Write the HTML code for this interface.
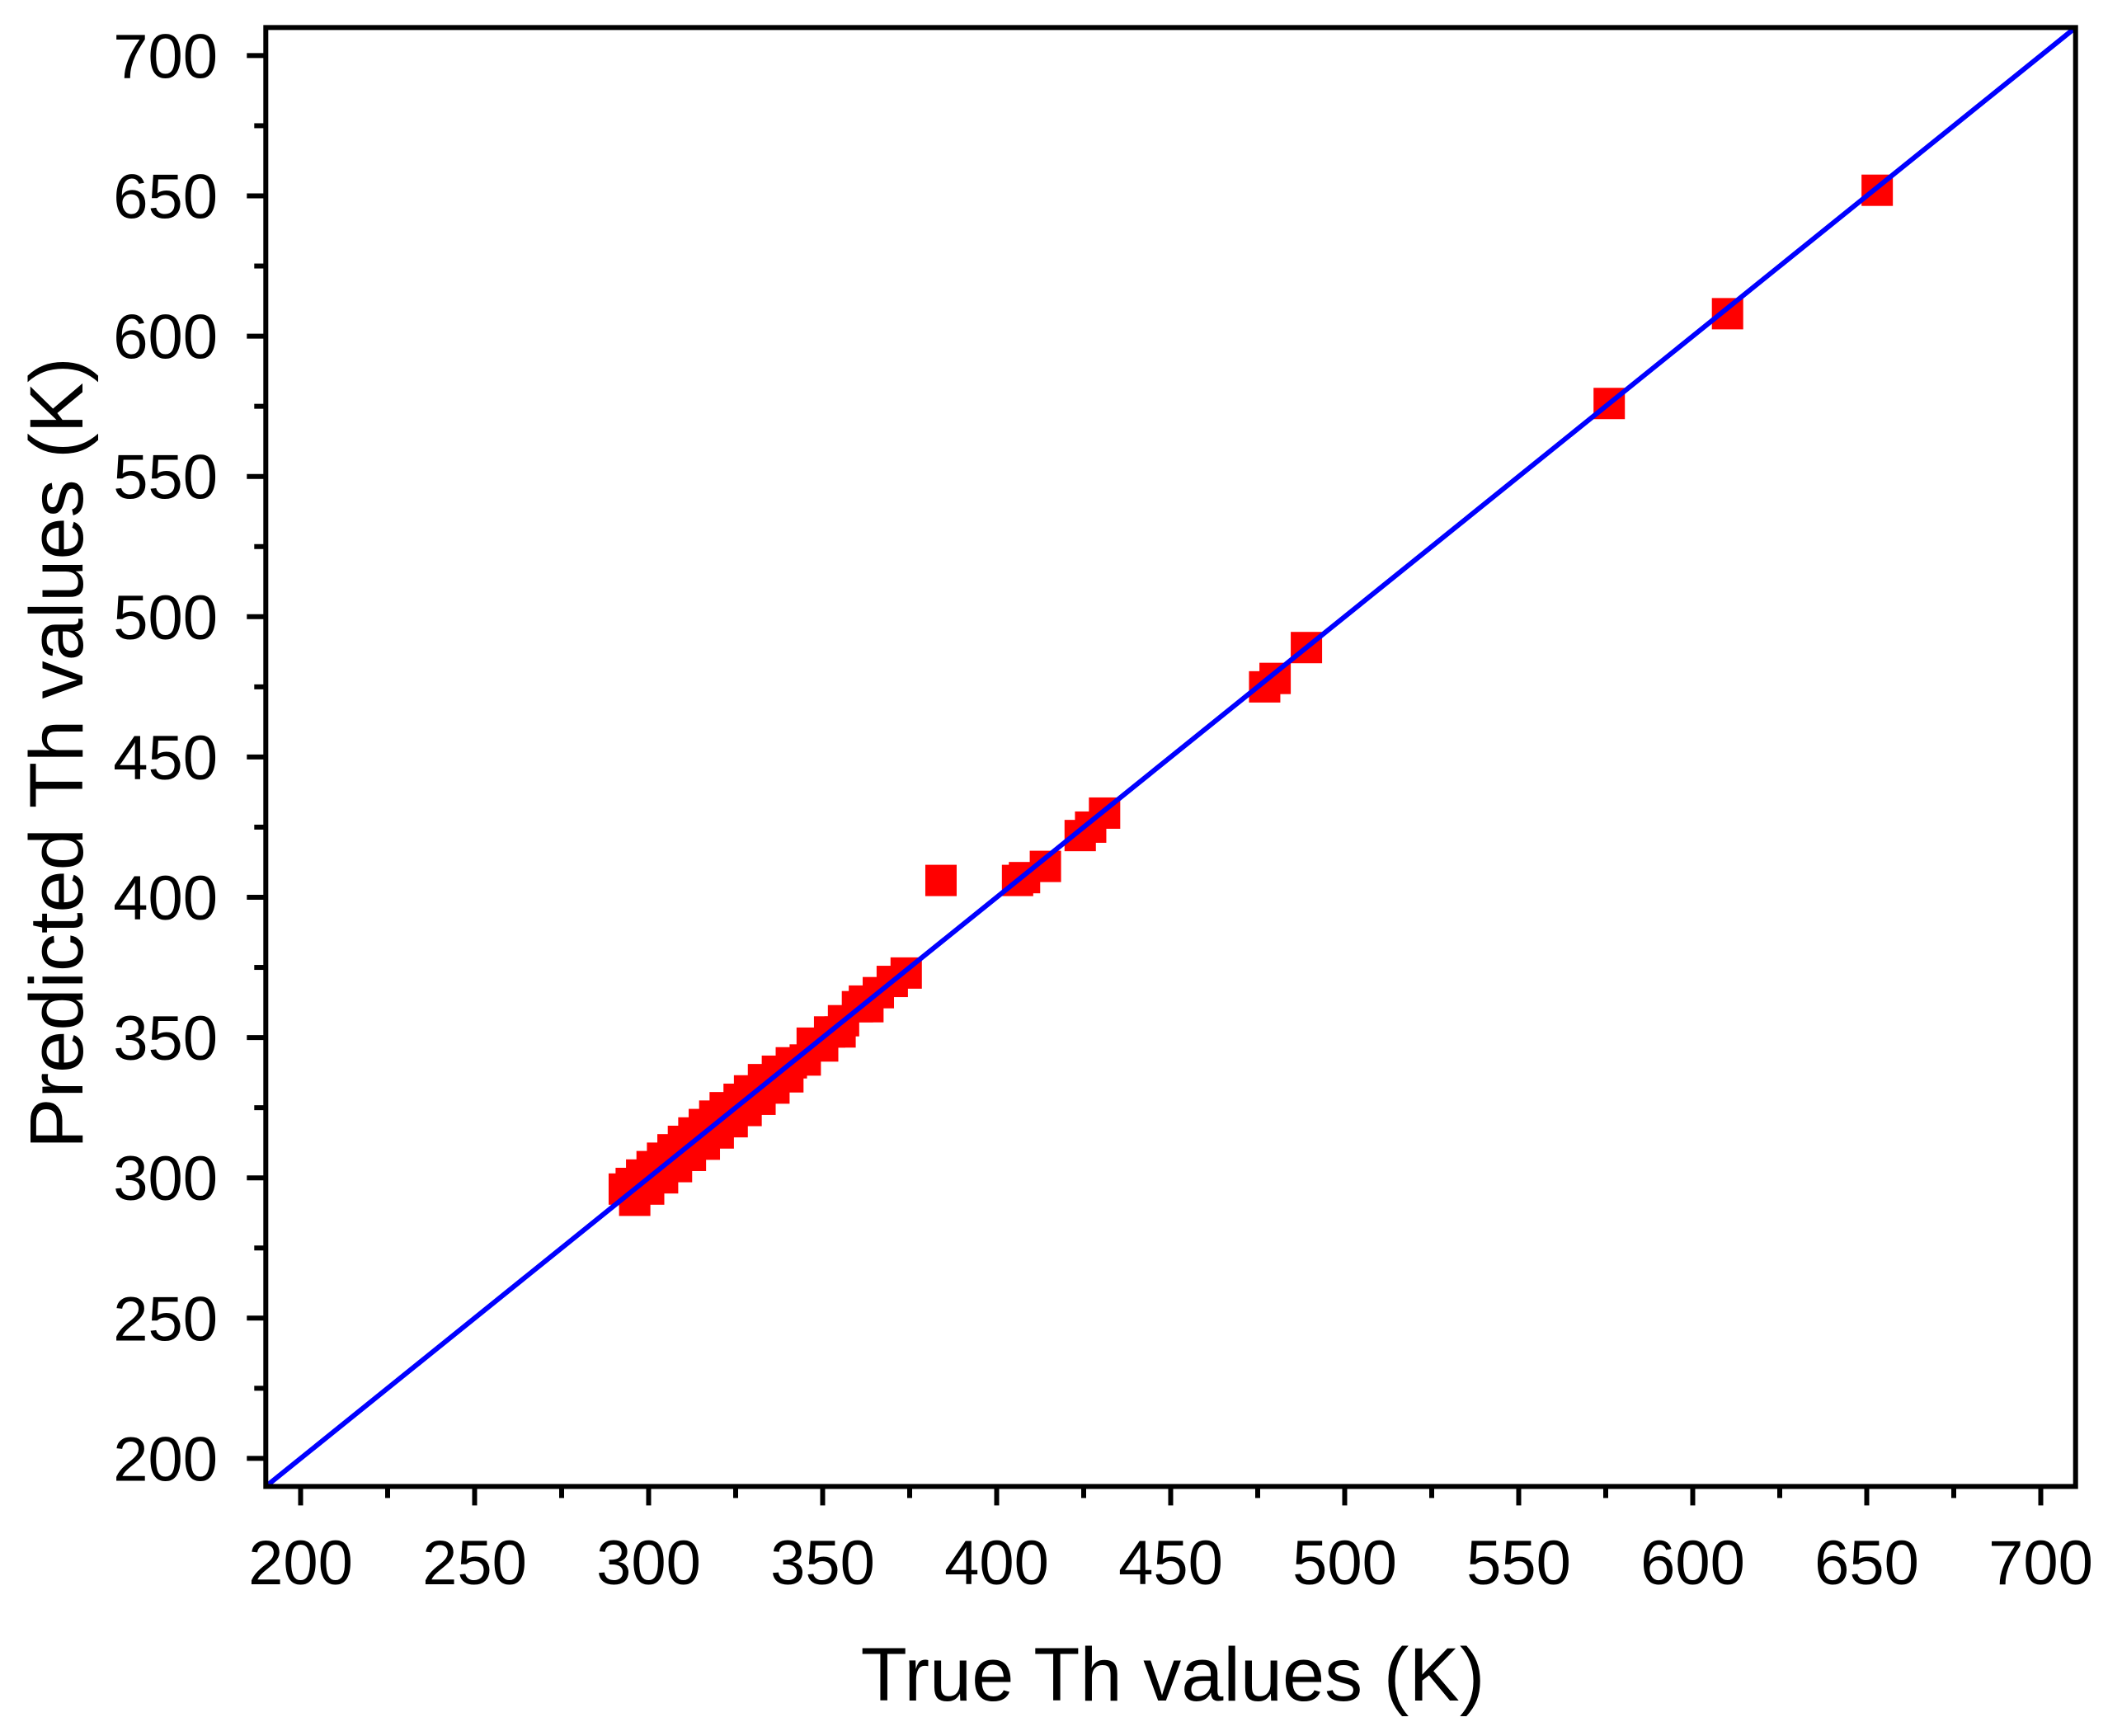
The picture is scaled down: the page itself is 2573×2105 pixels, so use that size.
<!DOCTYPE html>
<html><head><meta charset="utf-8"><style>
html,body{margin:0;padding:0;background:#fff;}
svg{display:block;}
text{font-family:"Liberation Sans",Arial,sans-serif;fill:#000;}
</style></head><body>
<svg id="chart" width="2573" height="2105" viewBox="0 0 2573 2105" xmlns="http://www.w3.org/2000/svg">
<g id="marks"></g>
<g id="axes"></g>
<text x="1422" y="2062" font-size="92" text-anchor="middle">True Th values (K)</text>
<text x="0" y="0" font-size="92" text-anchor="middle" transform="translate(100,913) rotate(-90)">Predicted Th values (K)</text>
</svg>
<script>
const xTicks=[200,250,300,350,400,450,500,550,600,650,700];
const yTicks=[200,250,300,350,400,450,500,550,600,650,700];
const trueVals=[653,610,576,489,477,480,431,424,427,414,408,406,384,374,370,366,362,360,356,352,347,341,337,333,329,326,322,319,316,313,310,307,304,301,298,295,293,
296,300,304,308,312,316,320,324,328,332,336,340,345,350,355,363];
const predVals=[652,608,576,489,475,478,430,422,425,411,407,406,406,373,370,366,363,361,356,352,348,341,338,335,331,328,325,322,319,316,313,310,307,304,301,298,296,
292,296,300,304,308,312,316,320,324,328,332,336,342,347,352,361];
const fitLine=[190,710];
const NS='http://www.w3.org/2000/svg';
function sx(v){return 364.5+(v-200)*4.22;}
function sy(v){return 1768.4-(v-200)*3.402;}
const L=sx(190),R=sx(710),T=sy(710),B=sy(190);
function mk(tag,attrs,parent){const e=document.createElementNS(NS,tag);for(const k in attrs)e.setAttribute(k,attrs[k]);parent.appendChild(e);return e;}
const marks=document.getElementById('marks');
const axes=document.getElementById('axes');
const S=38;
trueVals.forEach((v,i)=>{
  const r=mk('rect',{x:sx(v)-S/2,y:sy(predVals[i])-S/2,width:S,height:S,fill:'#ff0000'},marks);
  
  
});
const ln=mk('line',{x1:sx(fitLine[0]),y1:sy(fitLine[0]),x2:sx(fitLine[1]),y2:sy(fitLine[1]),stroke:'#0000ff','stroke-width':6},marks);


const fr=mk('rect',{x:L,y:T,width:R-L,height:B-T,fill:'none',stroke:'#000','stroke-width':6},axes);


xTicks.forEach((v,i)=>{
  const x=sx(v);
  const t=mk('line',{x1:x,y1:B,x2:x,y2:B+23,stroke:'#000','stroke-width':6},axes);
  
  
  if(i<xTicks.length-1){const m=mk('line',{x1:sx(v+25),y1:B,x2:sx(v+25),y2:B+14,stroke:'#000','stroke-width':6},axes);
  
  }
  const tx=mk('text',{x:x,y:1921,'font-size':76,'text-anchor':'middle'},axes);tx.textContent=v;
  
  
});
yTicks.forEach((v,i)=>{
  const y=sy(v);
  const t=mk('line',{x1:L,y1:y,x2:L-23,y2:y,stroke:'#000','stroke-width':6},axes);
  
  
  if(i<yTicks.length-1){const m=mk('line',{x1:L,y1:sy(v+25),x2:L-14,y2:sy(v+25),stroke:'#000','stroke-width':6},axes);
  
  }
  const tx=mk('text',{x:264,y:y+27,'font-size':76,'text-anchor':'end'},axes);tx.textContent=v;
  
  
});
</script>
</body></html>
